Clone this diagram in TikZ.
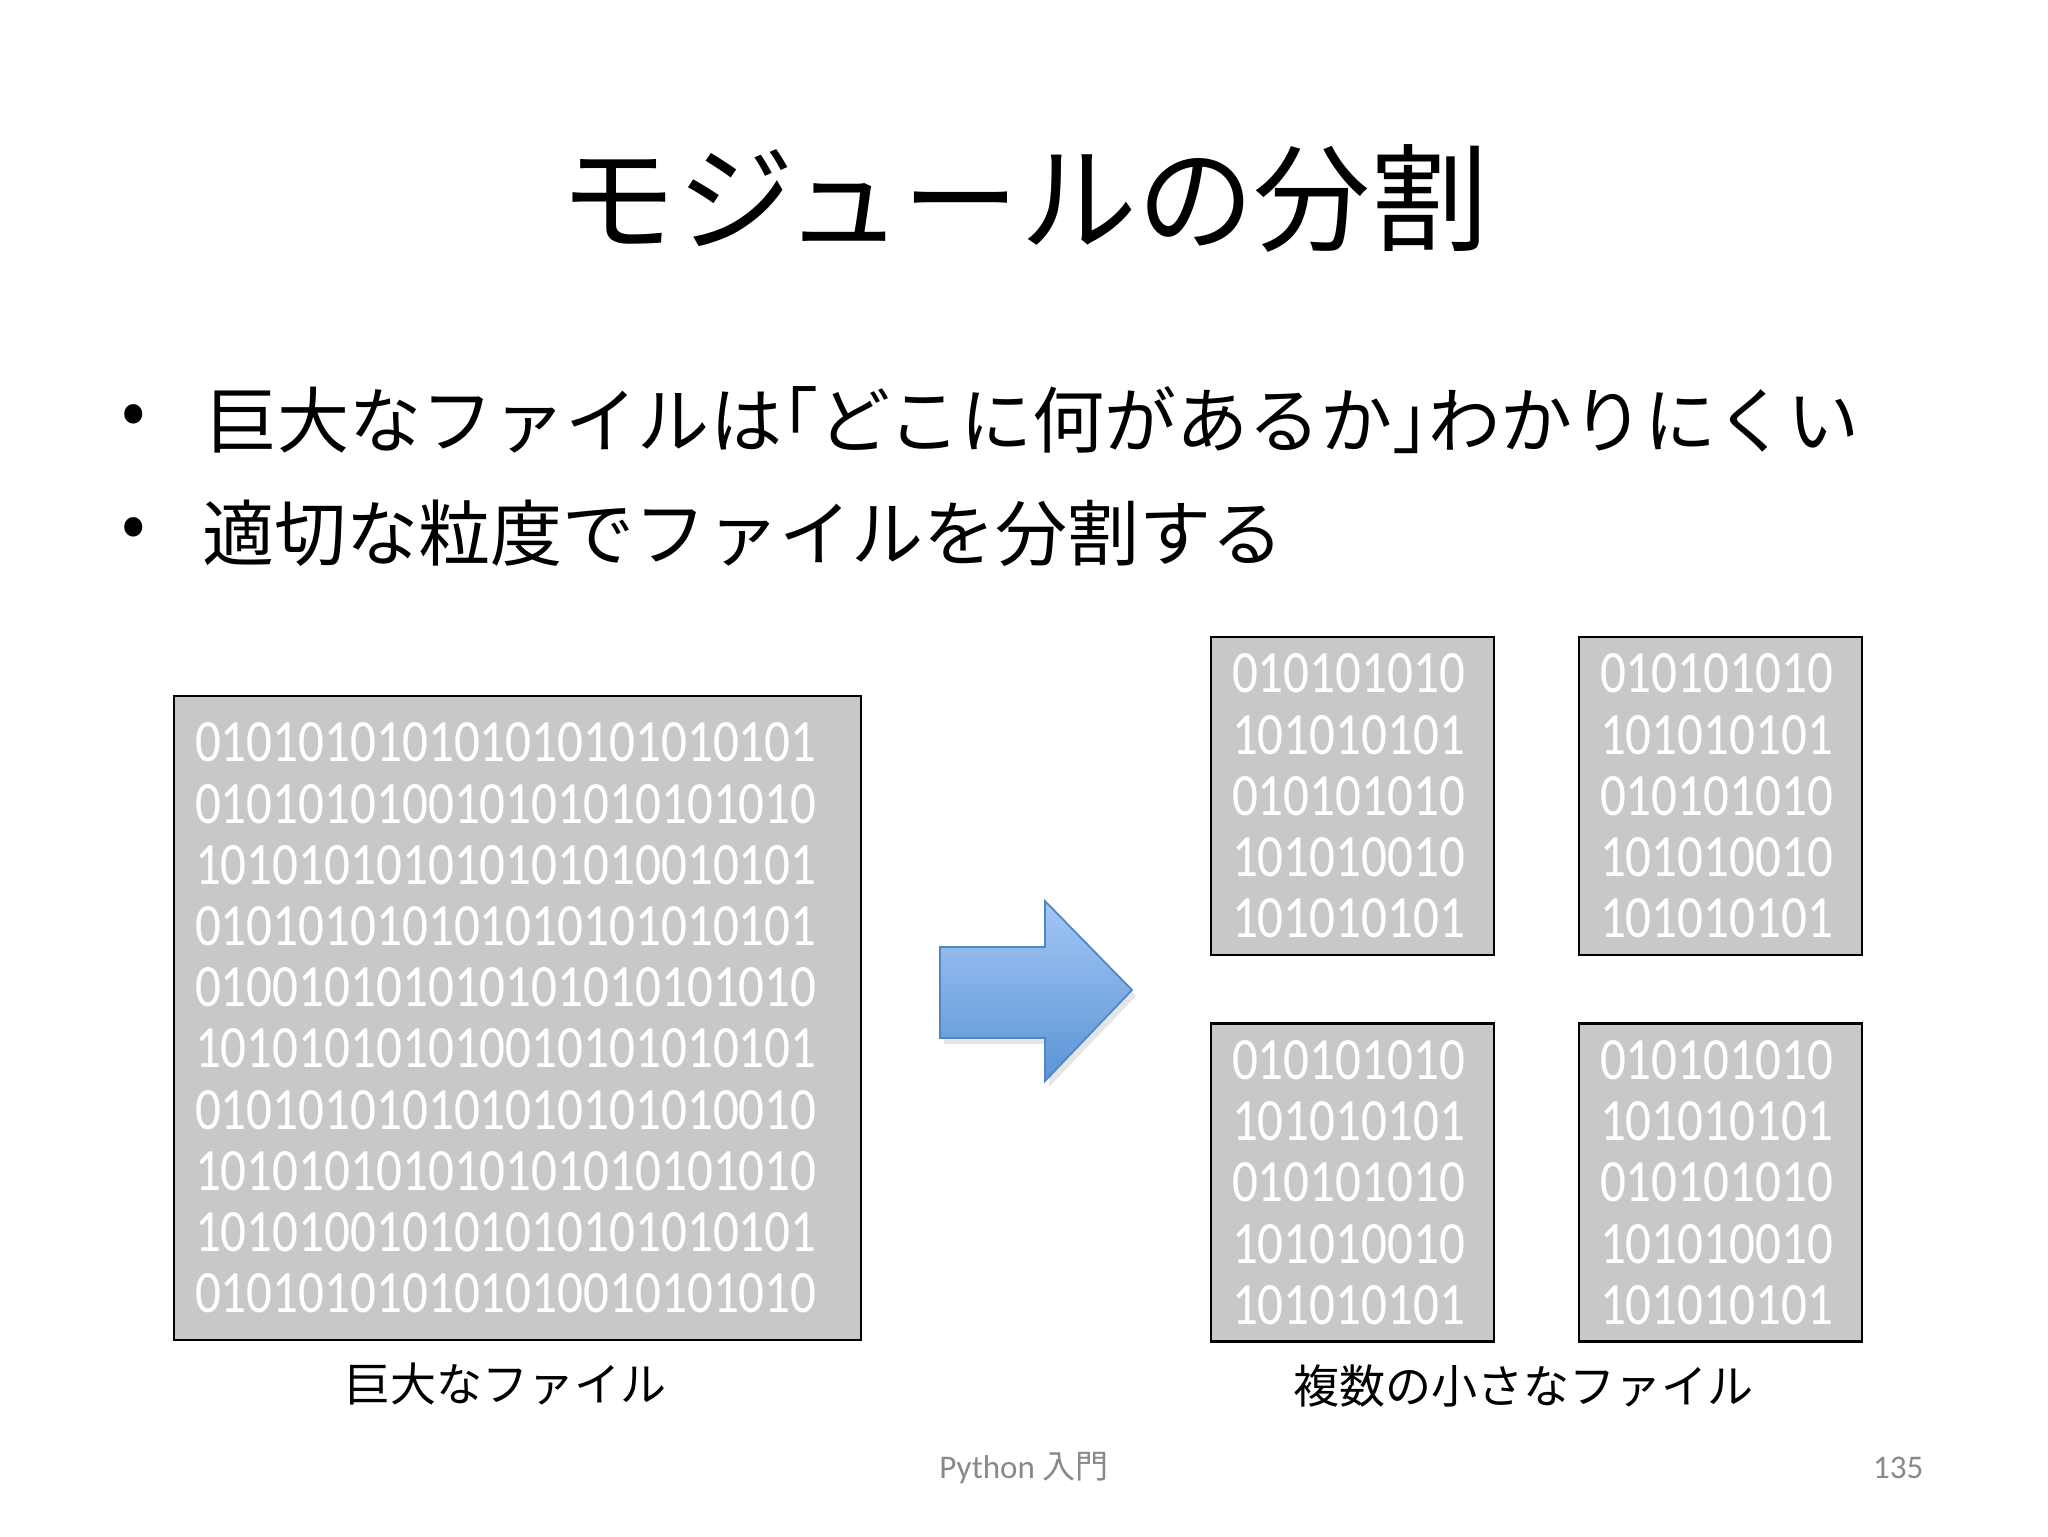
\documentclass[tikz,border=0pt]{standalone}
\usepackage{fontspec}
\usepackage{tikz}
\usetikzlibrary{positioning, calc, shadows}

\setmainfont{Carlito}
\newfontfamily\jpfont{Noto Sans CJK JP}
\newfontfamily\bitsfont[FakeStretch=0.85]{Carlito}

\definecolor{filegray}{HTML}{C8C8C8}
\definecolor{arrowtop}{HTML}{A4C6F4}
\definecolor{arrowbottom}{HTML}{5A95D6}
\definecolor{arrowedge}{HTML}{4F86C6}
\definecolor{footgray}{HTML}{898989}

\begin{document}
\begin{tikzpicture}[x=0.1mm, y=-0.1mm,
    filebox/.style={draw=black, line width=0.6pt, fill=filegray, text=white,
        align=left, inner xsep=2.1mm, inner ysep=0pt,
        font=\bitsfont\fontsize{17.1pt}{17.41pt}\selectfont},
    bigfile/.style={filebox, text width=64.5mm, minimum height=64.4mm},
    smallfile/.style={filebox, text width=24.1mm, minimum height=31.8mm},
    filelabel/.style={font=\jpfont\fontsize{13.1pt}{15pt}\selectfont, inner sep=0pt},
    pointline/.style={font=\jpfont\fontsize{20.5pt}{24pt}\selectfont, inner sep=0pt}]

    % Page
    \fill[white] (0,0) rectangle (2048,1536);
    \useasboundingbox (0,0) rectangle (2048,1536);

    % Title
    \node[font=\jpfont\fontsize{33.3pt}{40pt}\selectfont, inner sep=0pt] (title)
        at (1024,198) {モジュールの分割};

    % Bullet points
    \node[pointline] (dot1) at (134,420) {•};
    \node[pointline, anchor=west] (point1) at (205,420)
        {巨大なファイルは\kern-.5em「どこに何があるか」\kern-.5emわかりにくい};
    \node[pointline] (dot2) at (134,533) {•};
    \node[pointline, anchor=west] (point2) at (202,533)
        {適切な粒度でファイルを分割する};

    % One huge file
    \node[bigfile] (big) at (517.5,1018) {%
        010101010101010101010101\\
        010101010010101010101010\\
        101010101010101010010101\\
        010101010101010101010101\\
        010010101010101010101010\\
        101010101010010101010101\\
        010101010101010101010010\\
        101010101010101010101010\\
        101010010101010101010101\\
        010101010101010010101010};
    \node[filelabel, below=2.1mm of big, xshift=-1.2mm] (bigcap) {巨大なファイル};

    % Split arrow
    \shadedraw[top color=arrowtop, bottom color=arrowbottom, draw=arrowedge,
        line width=0.5pt,
        drop shadow={opacity=0.2, shadow xshift=0.4mm, shadow yshift=-0.6mm}]
        (940,947) -- (1045,947) -- (1045,901) -- (1132,990)
        -- (1045,1081) -- (1045,1038) -- (940,1038) -- cycle;

    % Small files
    \node[smallfile] (tl) at (1352.5,796) {010101010\\101010101\\010101010\\101010010\\101010101};
    \node[smallfile] (tr) at (1720.5,796) {010101010\\101010101\\010101010\\101010010\\101010101};
    \node[smallfile] (bl) at (1352.5,1182.5) {010101010\\101010101\\010101010\\101010010\\101010101};
    \node[smallfile] (br) at (1720.5,1182.5) {010101010\\101010101\\010101010\\101010010\\101010101};

    \coordinate (smallbottom) at ($(bl.south)!0.5!(br.south)$);
    \node[filelabel, below=2.1mm of smallbottom, xshift=-1.3mm] (smallcap) {複数の小さなファイル};

    % Footer
    \node[font=\fontsize{9.4pt}{11pt}\selectfont, text=footgray, inner sep=0pt] (footer)
        at (1024,1468) {Python {\jpfont 入門}};
    \node[font=\fontsize{9.4pt}{11pt}\selectfont, text=footgray, inner sep=0pt, anchor=east] (pageno)
        at (1924,1468) {135};
\end{tikzpicture}
\end{document}
